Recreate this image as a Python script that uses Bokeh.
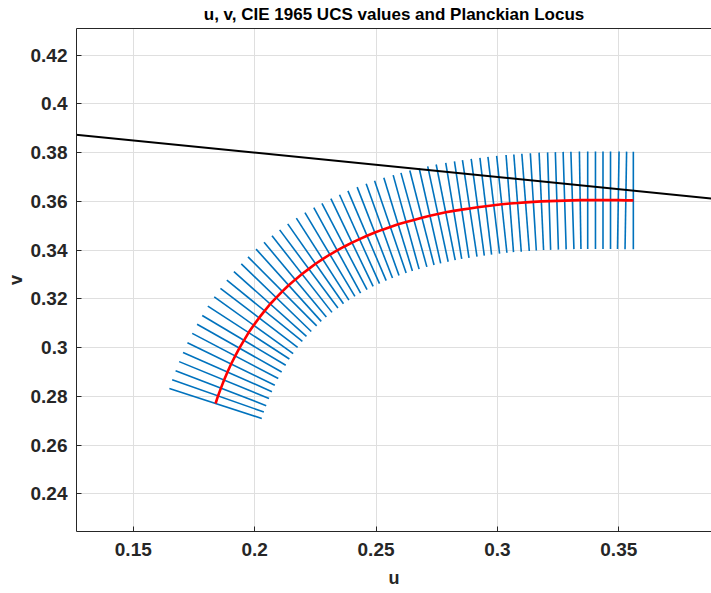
import numpy as np
from bokeh.plotting import figure
from bokeh.models import ColumnDataSource, FixedTicker, LinearAxis, Range1d
from bokeh.embed import file_html
from bokeh.resources import INLINE

# Planckian locus (CIE 1960 UCS u, v) at each isotemperature tick
locus_u = [0.1839, 0.1849, 0.1861, 0.1874, 0.1888, 0.1903, 0.1920, 0.1937, 0.1956, 0.1975,
           0.1996, 0.2018, 0.2041, 0.2064, 0.2089, 0.2114, 0.2140, 0.2167, 0.2195, 0.2223,
           0.2251, 0.2280, 0.2310, 0.2340, 0.2370, 0.2401, 0.2432, 0.2463, 0.2495, 0.2527,
           0.2559, 0.2591, 0.2624, 0.2656, 0.2689, 0.2722, 0.2755, 0.2787, 0.2820, 0.2853,
           0.2886, 0.2919, 0.2952, 0.2985, 0.3018, 0.3051, 0.3083, 0.3116, 0.3148, 0.3181,
           0.3213, 0.3245, 0.3277, 0.3309, 0.3341, 0.3372, 0.3404, 0.3435, 0.3466, 0.3498,
           0.3529, 0.3560]
locus_v = [0.2771, 0.2802, 0.2834, 0.2867, 0.2900, 0.2933, 0.2966, 0.2998, 0.3030, 0.3062,
           0.3092, 0.3122, 0.3151, 0.3179, 0.3205, 0.3231, 0.3256, 0.3279, 0.3302, 0.3323,
           0.3344, 0.3363, 0.3382, 0.3399, 0.3415, 0.3431, 0.3445, 0.3459, 0.3472, 0.3484,
           0.3495, 0.3506, 0.3515, 0.3524, 0.3533, 0.3541, 0.3548, 0.3555, 0.3561, 0.3566,
           0.3571, 0.3576, 0.3580, 0.3584, 0.3588, 0.3591, 0.3593, 0.3596, 0.3598, 0.3600,
           0.3601, 0.3602, 0.3603, 0.3604, 0.3605, 0.3605, 0.3605, 0.3605, 0.3605, 0.3605,
           0.3604, 0.3604]
iso_half_length = 0.02

# straight black line
line_u = [0.10, 0.40]
line_v = [0.39, 0.36]

x_ticks = [0.15, 0.2, 0.25, 0.3, 0.35]
x_tick_labels = ["0.15", "0.2", "0.25", "0.3", "0.35"]
y_ticks = [0.24, 0.26, 0.28, 0.30, 0.32, 0.34, 0.36, 0.38, 0.40, 0.42]
y_tick_labels = ["0.24", "0.26", "0.28", "0.3", "0.32", "0.34", "0.36", "0.38", "0.4", "0.42"]

# isotemperature lines: perpendicular to the locus, +/- half length
lu = np.array(locus_u)
lv = np.array(locus_v)
tu = np.gradient(lu)
tv = np.gradient(lv)
norm = np.hypot(tu, tv)
nu = -tv / norm
nv = tu / norm
iso_src = ColumnDataSource(dict(
    u0=lu - iso_half_length * nu, v0=lv - iso_half_length * nv,
    u1=lu + iso_half_length * nu, v1=lv + iso_half_length * nv))

FONT = "Liberation Sans"
AX = "#262626"

p = figure(width=711, height=593, output_backend="svg", toolbar_location=None,
           x_range=Range1d(0.1266, 0.3882), y_range=Range1d(0.2246, 0.4309),
           title="u, v, CIE 1965 UCS values and Planckian Locus",
           x_axis_label="u", y_axis_label="v")
p.min_border_left = 76
p.min_border_right = 0
p.min_border_top = 28
p.min_border_bottom = 62
p.outline_line_color = None
p.background_fill_color = "white"
p.border_fill_color = "white"

p.title.text_font = FONT
p.title.text_font_size = "17px"
p.title.text_font_style = "bold"
p.title.text_color = "#000000"
p.title.align = "center"
p.title.vertical_align = "top"
p.title.standoff = 6

for ax in (p.xaxis[0], p.yaxis[0]):
    ax.axis_line_color = AX
    ax.axis_line_width = 1
    ax.major_tick_line_color = AX
    ax.major_tick_in = 5
    ax.major_tick_out = 0
    ax.minor_tick_line_color = None
    ax.major_label_text_font = FONT
    ax.major_label_text_font_size = "19px"
    ax.major_label_text_font_style = "bold"
    ax.major_label_text_color = AX
    ax.axis_label_text_font = FONT
    ax.axis_label_text_font_size = "18px"
    ax.axis_label_text_font_style = "bold"
    ax.axis_label_text_color = AX

p.xaxis[0].ticker = FixedTicker(ticks=x_ticks)
p.xaxis[0].major_label_overrides = dict(zip(x_ticks, x_tick_labels))
p.yaxis[0].ticker = FixedTicker(ticks=y_ticks)
p.yaxis[0].major_label_overrides = dict(zip(y_ticks, y_tick_labels))
p.xaxis[0].major_label_standoff = 11
p.xaxis[0].axis_label_standoff = 9
p.yaxis[0].major_label_standoff = 9
p.yaxis[0].axis_label_standoff = 2

# top border of the box (line only)
top = LinearAxis(ticker=FixedTicker(ticks=[]))
top.axis_line_color = AX
top.major_tick_line_color = None
top.minor_tick_line_color = None
p.add_layout(top, "above")

p.xgrid.ticker = FixedTicker(ticks=x_ticks)
p.ygrid.ticker = FixedTicker(ticks=y_ticks)
p.grid.grid_line_color = "#DFDFDF"
p.grid.grid_line_width = 1

p.segment(x0="u0", y0="v0", x1="u1", y1="v1", source=iso_src,
          line_color="#0072BD", line_width=1.6)
p.line(locus_u, locus_v, line_color="#FF0000", line_width=2.6)
p.line(line_u, line_v, line_color="#000000", line_width=2)

open("out.html", "w").write(file_html(p, INLINE))
